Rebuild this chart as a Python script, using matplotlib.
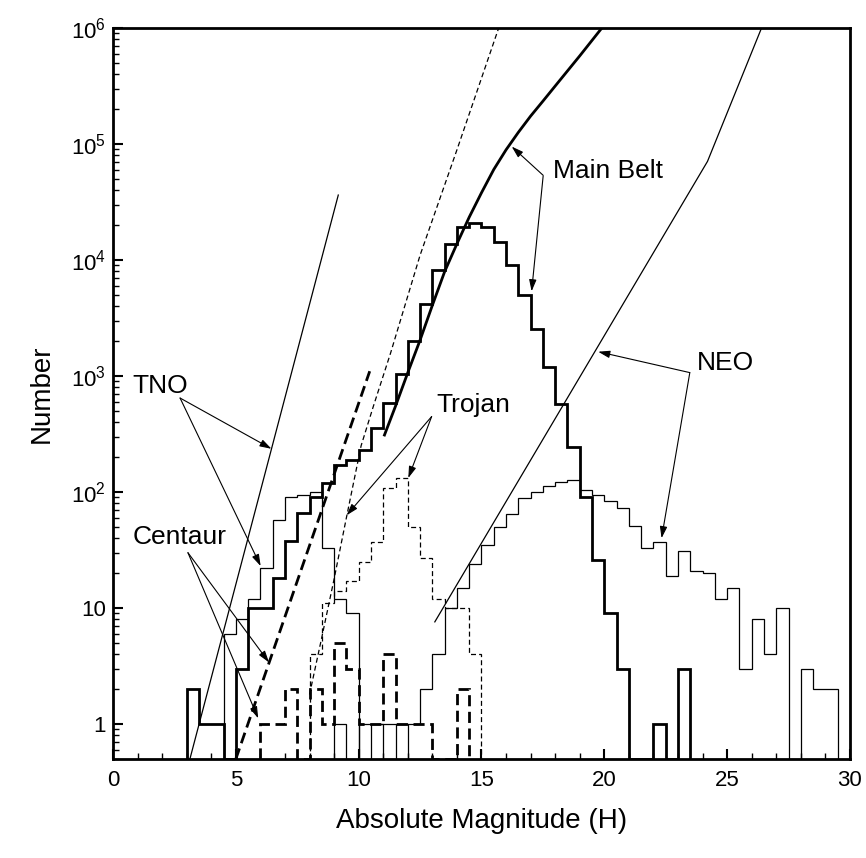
import matplotlib.pyplot as plt
import numpy as np
from matplotlib.ticker import MultipleLocator, LogLocator, NullFormatter

plt.rcParams['font.family'] = ['Liberation Sans', 'DejaVu Sans']
plt.rcParams['mathtext.fontset'] = 'custom'
plt.rcParams['mathtext.rm'] = 'Liberation Sans'
plt.rcParams['mathtext.it'] = 'Liberation Sans:italic'
plt.rcParams['mathtext.bf'] = 'Liberation Sans:bold'

BIN = 0.5      # histogram bin width (mag)
Y_FLOOR = 0.5  # bottom of the log axis

# --- differential counts per 0.5 mag bin (first left edge + counts) ---
mb_start = 3.0
mb_counts = [2, 1, 1, 0, 3, 10, 10, 18, 38, 66,
             91, 119, 171, 190, 232, 356, 580, 1040, 2000, 4140,
             8200, 13700, 19100, 21000, 19100, 14200, 8970, 5010, 2540, 1200,
             575, 245, 91, 26, 9, 3, 0, 0, 1, 0, 3]

neo_start = 9.0
neo_counts = [1, 0, 1, 1, 1, 1, 1, 2, 4, 10,
              15, 24, 35, 50, 65, 88, 100, 113, 123, 128,
              105, 94, 83, 73, 51, 33, 37, 19, 31, 21,
              20, 12, 15, 3, 8, 4, 10, 0, 3, 2, 2]

tno_start = 4.5
tno_counts = [6, 8, 12, 22, 57, 90, 95, 100, 33, 12, 9, 0, 1, 0, 1]

trojan_start = 8.0
trojan_counts = [4, 11, 14, 17, 25, 37, 108, 131, 50, 27, 12, 10, 10, 4]

centaur_start = 6.0
centaur_counts = [1, 1, 2, 0, 2, 1, 5, 3, 1, 1, 4, 1, 1, 1, 0, 0, 2]

# --- cumulative / model curves ---
mb_cum_h = [11.05, 11.5, 12.0, 12.5, 13.0, 13.5, 14.0, 14.5, 15.0, 15.5,
            16.0, 16.5, 17.0, 17.5, 18.0, 19.0, 19.9]
mb_cum_n = [310, 550, 1070, 2040, 4070, 7940, 13800, 23400, 38000, 60300,
            89100, 126000, 174000, 234000, 316000, 575000, 1000000]

neo_cum_h = [13.1, 24.2, 26.4]
neo_cum_n = [7.6, 70800, 1000000]

tno_cum_h = [3.13, 9.17]
tno_cum_n = [0.5, 36300]

trojan_cum_h = [8.0, 8.5, 9.0, 9.5, 10.1, 10.6, 11.3, 12.5, 14.0, 15.7]
trojan_cum_n = [1.8, 5.6, 17.8, 60, 251, 550, 1580, 11000, 89000, 1000000]

centaur_cum_h = [5.0, 10.45]
centaur_cum_n = [0.5, 1100]

THICK = 2.0
THIN = 0.9


def step_hist(ax, start, counts, **kw):
    counts = np.asarray(counts, dtype=float)
    edges = start + BIN * np.arange(len(counts) + 1)
    ax.stairs(np.maximum(counts, Y_FLOOR), edges, baseline=Y_FLOOR,
              fill=False, color='black', **kw)


def pointer(ax, tail, tip):
    ax.annotate('', xy=tip, xytext=tail,
                arrowprops=dict(arrowstyle='-|>,head_length=0.7,head_width=0.22',
                                color='black', lw=0.8, shrinkA=0, shrinkB=0))


fig = plt.figure(figsize=(8.66, 8.58), dpi=100)
ax = fig.add_axes([0.1305, 0.1154, 0.851, 0.852])
ax.set_yscale('log')

# histograms
step_hist(ax, mb_start, mb_counts, lw=THICK)
step_hist(ax, neo_start, neo_counts, lw=THIN)
step_hist(ax, tno_start, tno_counts, lw=THIN)
step_hist(ax, trojan_start, trojan_counts, lw=THIN, linestyle=(0, (4, 2.5)))
step_hist(ax, centaur_start, centaur_counts, lw=THICK, linestyle=(0, (4, 2)))

# cumulative curves
ax.plot(mb_cum_h, mb_cum_n, color='black', lw=THICK)
ax.plot(neo_cum_h, neo_cum_n, color='black', lw=THIN)
ax.plot(tno_cum_h, tno_cum_n, color='black', lw=THIN)
ax.plot(trojan_cum_h, trojan_cum_n, color='black', lw=THIN, linestyle=(0, (4, 2.5)))
ax.plot(centaur_cum_h, centaur_cum_n, color='black', lw=THICK, linestyle=(0, (4, 2)))

# labels and pointers
lab = dict(fontsize=19, va='center', ha='left')
ax.text(17.9, 58600, 'Main Belt', **lab)
pointer(ax, (17.51, 53700), (16.23, 95000))
pointer(ax, (17.51, 53000), (17.04, 5370))

ax.text(23.77, 1290, 'NEO', **lab)
pointer(ax, (23.48, 1070), (19.75, 1620))
pointer(ax, (23.48, 1070), (22.33, 40))

ax.text(13.17, 562, 'Trojan', **lab)
pointer(ax, (12.97, 447), (12.02, 132))
pointer(ax, (12.97, 447), (9.51, 63))

ax.text(0.8, 817, 'TNO', **lab)
pointer(ax, (2.73, 646), (6.45, 10 ** (-0.3 + 0.805 * 3.32)))
pointer(ax, (2.73, 646), (6.01, 23))

ax.text(0.81, 41, 'Centaur', **lab)
pointer(ax, (3.05, 30), (6.35, 3.4))
pointer(ax, (3.05, 30), (5.91, 1.12))

# axes
ax.set_xlim(0, 30)
ax.set_ylim(Y_FLOOR, 1e6)
ax.set_xticks(range(0, 31, 5))
ax.xaxis.set_minor_locator(MultipleLocator(1))
ax.set_yticks([1, 10, 1e2, 1e3, 1e4, 1e5, 1e6])
ax.set_yticklabels(['1', '10', '$10^2$', '$10^3$', '$10^4$', '$10^5$', '$10^6$'])
ax.yaxis.set_minor_locator(LogLocator(base=10, subs=np.arange(2, 10)))
ax.yaxis.set_minor_formatter(NullFormatter())
ax.tick_params(which='both', direction='in', top=False, right=False, labelsize=16)
ax.tick_params(which='major', length=7, width=1.5)
ax.tick_params(which='minor', length=4, width=1.0)
ax.tick_params(axis='x', pad=8)
ax.tick_params(axis='y', pad=5)
for s in ax.spines.values():
    s.set_linewidth(2)

ax.set_xlabel('Absolute Magnitude (H)', fontsize=20, labelpad=12)
ax.set_ylabel('Number', fontsize=20, labelpad=12)

fig.savefig('out.png', dpi=100)
